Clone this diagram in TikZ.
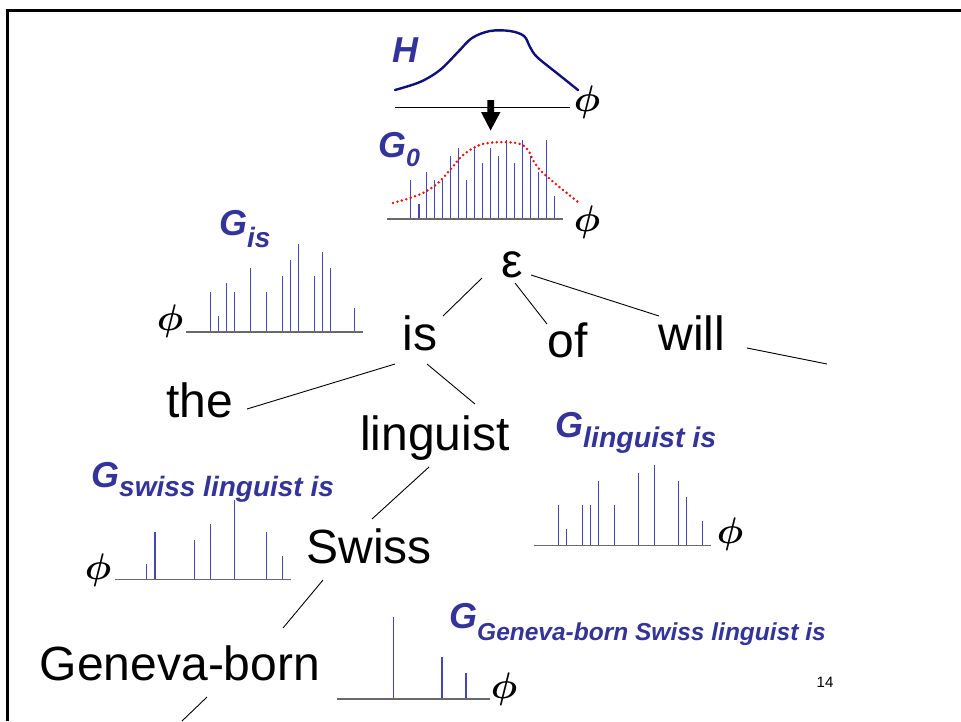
\RequirePackage{fix-cm}
\documentclass[tikz,border=0pt]{standalone}
\usepackage{bm}
\usepackage{fontspec}
\setmainfont{Liberation Sans}
\usetikzlibrary{calc}
\definecolor{gblue}{RGB}{51,51,153}
\definecolor{hnavy}{RGB}{15,15,125}
\definecolor{spikeblue}{RGB}{70,70,185}
\definecolor{axisgray}{RGB}{105,105,105}
\definecolor{dotred}{RGB}{235,20,20}
\begin{document}
\begin{tikzpicture}[x=1pt,y=-1pt,
  word/.style={font=\fontsize{48}{48}\selectfont, anchor=base, inner sep=0pt},
  glabel/.style={font=\fontsize{36}{36}\selectfont\bfseries\itshape, text=gblue, anchor=base west, inner sep=0pt},
  phinode/.style={font=\fontsize{37}{37}\selectfont, inner sep=0pt},
  tree/.style={line width=0.9pt},
  spike/.style={draw=spikeblue, line width=1.2pt},
  axisline/.style={draw=axisgray, line width=1.6pt},
  hcurve/.style={draw=hnavy, line width=2.4pt, line cap=round},
  redcurve/.style={draw=dotred, line width=2.8pt, line cap=round, dash pattern=on 0pt off 4.6pt}
]
\useasboundingbox (0,0) rectangle (961,721);
% frame
\draw[line width=3pt] (7.5,721) -- (7.5,10.5) -- (961,10.5);

% ---------- H ----------
\node[glabel] (Hlab) at (392,62) {H};
\draw[hcurve] plot[smooth, tension=0.55] coordinates {(395,90) (420,82) (440,70) (458,52) (472,38) (490,31) (510,31) (524,36) (530,47) (537,57) (558,74) (578,90)};
\draw[line width=1pt] (395,107) -- (570,107);
\node[phinode] (phiH) at (587,102) {$\bm{\phi}$};
% arrow
\fill (487.3,100) -- (494,100) -- (494,112) -- (500.5,112) -- (490.6,130.5) -- (481,112) -- (487.3,112) -- cycle;

% ---------- G0 ----------
\node[glabel] (G0lab) at (378,157) {G\raisebox{-9pt}{\fontsize{25}{25}\selectfont 0}};
\foreach \x/\y in {410.7/180, 419/204, 426.7/171.7, 434.7/180, 442.7/180, 450.7/156, 458.7/147.7, 466.7/180, 474.7/147.7, 482.7/163.3, 490.7/147.7, 498.7/156, 506.7/140, 514.7/163.3, 522.7/140, 530.7/156, 538.7/171.7, 546.7/140, 554.7/196}
  \draw[spike] (\x,219) -- (\x,\y);
\draw[axisline] (387,219) -- (563,219);
\draw[redcurve] plot[smooth, tension=0.6] coordinates {(393,203) (410,198) (425,192) (438,183) (450,170) (460,158) (470,150) (483,144) (503,142) (520,144) (528,150) (533,160) (540,170) (550,179) (563,190) (578,202)};
\node[phinode] (phiG0) at (587,222) {$\bm{\phi}$};

% ---------- G_is ----------
\node[glabel] (Gislab) at (219,235) {G\raisebox{-12pt}{\fontsize{28}{28}\selectfont is}};
\foreach \x/\y in {210.3/291.7, 218.3/316, 226.7/283.3, 234.7/291.7, 250.7/267.7, 266.3/291.7, 282.7/276, 290.3/260, 298.3/243.7, 314.7/276, 322.7/251.7, 330.7/267.7, 354.3/307.7}
  \draw[spike] (\x,331.7) -- (\x,\y);
\draw[axisline] (186,331.7) -- (362.7,331.7);
\node[phinode] (phiGis) at (170,321) {$\bm{\phi}$};

% ---------- G_linguist is ----------
\node[glabel] (Glinglab) at (555,437) {G\raisebox{-10pt}{\fontsize{28.5}{28.5}\selectfont linguist is}};
\foreach \x/\y in {558.3/505, 566.3/529, 582.3/505, 590.3/505, 598.3/481, 614.3/505, 638.3/473, 654.3/465, 678.3/481, 686.3/497, 702.3/521}
  \draw[spike] (\x,545.3) -- (\x,\y);
\draw[axisline] (534,545.3) -- (710.7,545.3);
\node[phinode] (phiGling) at (730,534) {$\bm{\phi}$};

% ---------- G_swiss linguist is ----------
\node[glabel] (Gswisslab) at (91,487) {G\raisebox{-9pt}{\fontsize{28}{28}\selectfont swiss linguist is}};
\foreach \x/\y in {146.7/564, 155/531.7, 194.7/540, 210.7/524, 234.3/500, 266.7/531.7, 282.3/556}
  \draw[spike] (\x,579.3) -- (\x,\y);
\draw[axisline] (115,579.3) -- (290.7,579.3);
\node[phinode] (phiGswiss) at (98,570) {$\bm{\phi}$};

% ---------- G_Geneva-born Swiss linguist is ----------
\node[glabel] (Ggenlab) at (449,628) {G\raisebox{-12pt}{\fontsize{24.5}{24.5}\selectfont Geneva-born Swiss linguist is}};
\foreach \x/\y in {393.3/616.7, 442/656.7, 466/672.7}
  \draw[spike] (\x,698.7) -- (\x,\y);
\draw[axisline] (337,698.7) -- (490,698.7);
\node[phinode] (phiGgen) at (504,689) {$\bm{\phi}$};

% ---------- tree ----------
\node[word] (eps) at (512,277) {ε};
\node[word] (is) at (420,350) {is};
\node[word] (of) at (568,357) {of};
\node[word] (will) at (692,350) {will};
\node[word] (the) at (200,417) {the};
\node[word] (ling) at (435,450) {linguist};
\node[word] (swiss) at (369,563) {Swiss};
\node[word] (geneva) at (180,680) {Geneva-born};
\coordinate (willend) at (827,364);
\coordinate (genend) at (182,721);

\draw[tree] ($(eps.base)+(-30,1)$) -- ($(is.base)+(23,-34)$);
\draw[tree] ($(eps.base)+(3,6)$) -- ($(of.base)+(-21,-33)$);
\draw[tree] ($(eps.base)+(19,-2)$) -- ($(will.base)+(-33,-34)$);
\draw[tree] ($(will.base)+(55,-2)$) -- (willend);
\draw[tree] ($(is.base)+(-25,14)$) -- ($(the.base)+(47,-8)$);
\draw[tree] ($(is.base)+(7,14)$) -- ($(ling.base)+(40,-46)$);
\draw[tree] ($(ling.base)+(-6,17)$) -- ($(swiss.base)+(3,-44)$);
\draw[tree] ($(swiss.base)+(-46,17)$) -- ($(geneva.base)+(103,-52)$);
\draw[tree] ($(geneva.base)+(27,17)$) -- (genend);

\node[font=\fontsize{15}{15}\selectfont, inner sep=0pt] (pagenum) at (825,682) {14};
\end{tikzpicture}
\end{document}
